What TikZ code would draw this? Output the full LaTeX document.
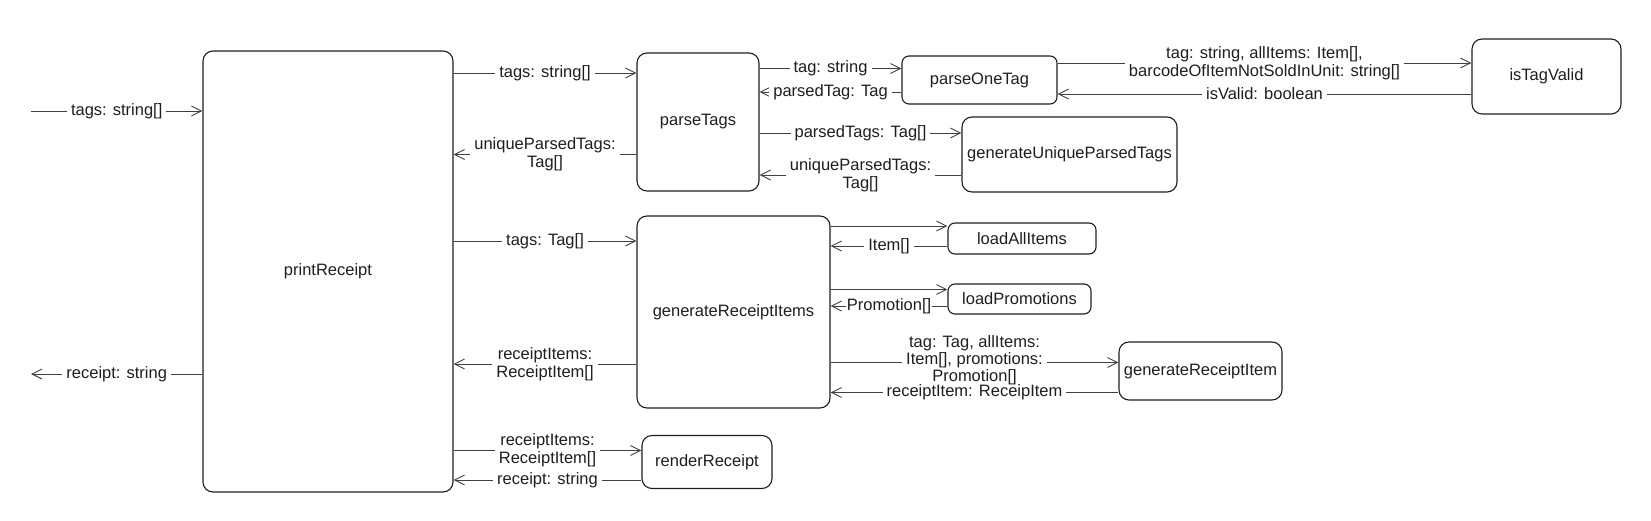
\documentclass[tikz,border=0pt]{standalone}
\usepackage{fontspec}
\setmainfont{Liberation Sans}
\usepackage{tikz}
\usepackage{xcolor}
\usetikzlibrary{arrows.meta, positioning, calc}
\definecolor{inkGray}{HTML}{1E1E1E}

\begin{document}
\begin{tikzpicture}[
  x=1bp, y=-1bp,
  every node/.style={font=\fontsize{16.5bp}{18bp}\selectfont, text=inkGray},
  func/.style={rectangle, draw=inkGray, line width=1.1bp, rounded corners=10bp, align=center, inner sep=0pt},
  smallfunc/.style={func, rounded corners=7bp},
  arrow/.style={-{Straight Barb[length=10bp, width=10bp]}, draw=inkGray!85, line width=0.9bp},
  flowtxt/.style={fill=white, align=center, inner xsep=4bp, inner ysep=1bp},
]

\useasboundingbox (0,0) rectangle (1651,521);

% === MAIN ENTRY ===
\node[func, minimum width=250bp, minimum height=441bp] (print) at (328,271.5) {printReceipt};
\coordinate (src) at (31,111);
\coordinate (dst) at (31,374);

% === PARSING (TOP) ===
\node[func, minimum width=122bp, minimum height=138bp] (parsetags) at (698,122) {parseTags};
\node[smallfunc, minimum width=155bp, minimum height=48bp] (parseone) at (979.5,80) {parseOneTag};
\node[func, minimum width=149bp, minimum height=75bp] (valid) at (1546.5,76.5) {isTagValid};
\node[func, minimum width=215bp, minimum height=75bp] (unique) at (1069.5,154.5) {generateUniqueParsedTags};

% === RECEIPT ITEMS (MIDDLE) ===
\node[func, minimum width=193bp, minimum height=192bp] (items) at (733.5,312) {generateReceiptItems};
\node[smallfunc, minimum width=148bp, minimum height=31bp] (loaditems) at (1022,238.5) {loadAllItems};
\node[smallfunc, minimum width=143bp, minimum height=30bp] (loadpromo) at (1019.5,299) {loadPromotions};
\node[func, minimum width=163bp, minimum height=58bp] (item) at (1200.5,371) {generateReceiptItem};

% === RENDERING (BOTTOM) ===
\node[func, minimum width=130bp, minimum height=53bp] (render) at (707,462) {renderReceipt};

% === ARROWS: in / out ===
\draw[arrow] (src) -- (print.west |- src) node[midway, flowtxt] {tags: string[]};
\draw[arrow] (print.west |- dst) -- (dst) node[midway, flowtxt] {receipt: string};

% === ARROWS: printReceipt <-> parseTags ===
\draw[arrow] (print.east |- 0,73) -- (parsetags.west |- 0,73) node[midway, flowtxt] {tags: string[]};
\draw[arrow] (parsetags.west |- 0,154.5) -- (print.east |- 0,154.5) node[midway, flowtxt] {uniqueParsedTags:\\Tag[]};

% === ARROWS: parseTags <-> helpers ===
\draw[arrow] (parsetags.east |- 0,68.5) -- (parseone.west |- 0,68.5) node[midway, flowtxt] {tag: string};
\draw[arrow] (parseone.west |- 0,92) -- (parsetags.east |- 0,92) node[midway, flowtxt] {parsedTag: Tag};
\draw[arrow] (parseone.east |- 0,63) -- (valid.west |- 0,63) node[midway, flowtxt] {tag: string, allItems: Item[],\\barcodeOfItemNotSoldInUnit: string[]};
\draw[arrow] (valid.west |- 0,94) -- (parseone.east |- 0,94) node[midway, flowtxt] {isValid: boolean};
\draw[arrow] (parsetags.east |- 0,133) -- (unique.west |- 0,133) node[midway, flowtxt] {parsedTags: Tag[]};
\draw[arrow] (unique.west |- 0,175) -- (parsetags.east |- 0,175) node[midway, flowtxt] {uniqueParsedTags:\\Tag[]};

% === ARROWS: printReceipt <-> generateReceiptItems ===
\draw[arrow] (print.east |- 0,241) -- (items.west |- 0,241) node[midway, flowtxt] {tags: Tag[]};
\draw[arrow] (items.west |- 0,364) -- (print.east |- 0,364) node[midway, flowtxt] {receiptItems:\\ReceiptItem[]};

% === ARROWS: generateReceiptItems <-> helpers ===
\draw[arrow] (items.east |- 0,226) -- (loaditems.west |- 0,226);
\draw[arrow] (loaditems.west |- 0,246) -- (items.east |- 0,246) node[midway, flowtxt] {Item[]};
\draw[arrow] (items.east |- 0,289.5) -- (loadpromo.west |- 0,289.5);
\draw[arrow] (loadpromo.west |- 0,306) -- (items.east |- 0,306) node[midway, flowtxt, inner xsep=1bp] {Promotion[]};
\draw[arrow] (items.east |- 0,362.5) -- (item.west |- 0,362.5) node[midway, flowtxt, inner ysep=0bp, yshift=2bp, font=\fontsize{16.5bp}{17bp}\selectfont] {tag: Tag, allItems:\\Item[], promotions:\\Promotion[]};
\draw[arrow] (item.west |- 0,392.5) -- (items.east |- 0,392.5) node[midway, flowtxt, inner ysep=0bp] {receiptItem: ReceipItem};

% === ARROWS: printReceipt <-> renderReceipt ===
\draw[arrow] (print.east |- 0,450.5) -- (render.west |- 0,450.5) node[midway, flowtxt] {receiptItems:\\ReceiptItem[]};
\draw[arrow] (render.west |- 0,480) -- (print.east |- 0,480) node[midway, flowtxt] {receipt: string};

\end{tikzpicture}
\end{document}
